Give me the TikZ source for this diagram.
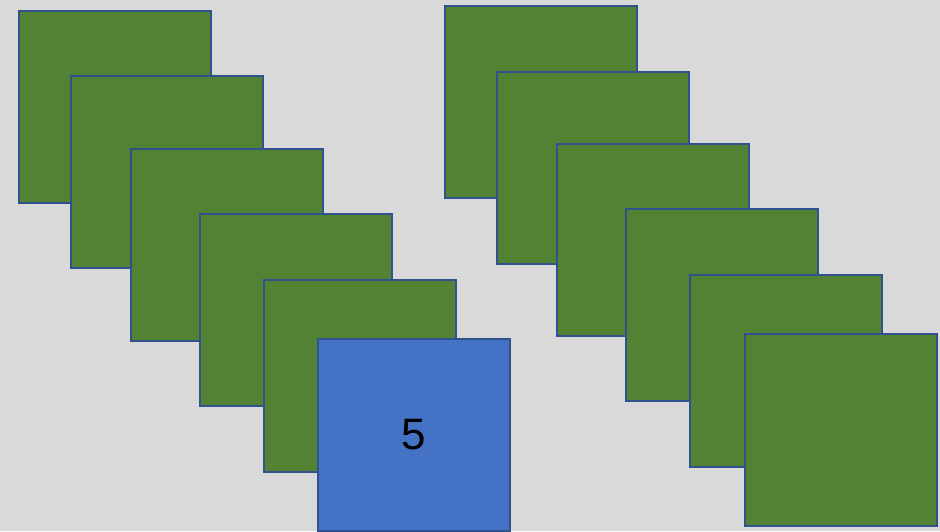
\documentclass[tikz,border=0pt]{standalone}
\usepackage{fontspec}
\setmainfont{Liberation Sans}
\definecolor{bg}{HTML}{D9D9D9}
\definecolor{grn}{HTML}{548235}
\definecolor{blu}{HTML}{4472C4}
\definecolor{edge}{HTML}{2F528F}
\begin{document}
\begin{tikzpicture}[x=1pt,y=-1pt,
  card/.style={draw=edge,line width=2.5pt,fill=grn,minimum size=192pt,inner sep=0pt,outer sep=0pt,anchor=north west},
  bluecard/.style={card,fill=blu,font=\fontsize{44}{48}\selectfont}]
\fill[bg] (0,0) rectangle (940,531);
\useasboundingbox (0,0) rectangle (940,531);
\node[card] (l1) at (19,11) {};
\node[card] (l2) at (71,76) {};
\node[card] (l3) at (131,149) {};
\node[card] (l4) at (200,214) {};
\node[card] (l5) at (264,280) {};
\node[bluecard] (l6) at (318,339) {5};
\node[card] (r1) at (445,6) {};
\node[card] (r2) at (497,72) {};
\node[card] (r3) at (557,144) {};
\node[card] (r4) at (626,209) {};
\node[card] (r5) at (690,275) {};
\node[card] (r6) at (745,334) {};
\end{tikzpicture}
\end{document}
